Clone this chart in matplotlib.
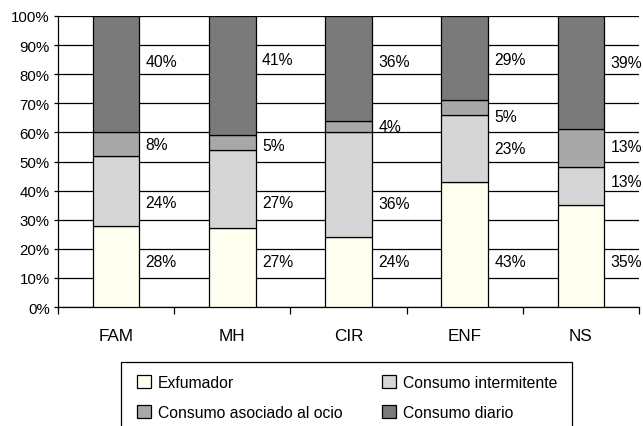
import matplotlib.pyplot as plt
from matplotlib.patches import Rectangle
import numpy as np

plt.rcParams['font.family'] = ['Liberation Sans', 'DejaVu Sans']

grupos = ["FAM", "MH", "CIR", "ENF", "NS"]
series = ["Exfumador", "Consumo intermitente", "Consumo asociado al ocio", "Consumo diario"]
exfumador = [28, 27, 24, 43, 35]
intermitente = [24, 27, 36, 23, 13]
ocio = [8, 5, 4, 5, 13]
diario = [40, 41, 36, 29, 39]
colores = ["#FFFFF0", "#D6D6D6", "#A8A8A8", "#7A7A7A"]

# altura (en %) de cada etiqueta, por grupo y serie
pos_etiquetas = [
    [15.5, 36, 56, 84.5],
    [15.5, 36, 55.5, 85],
    [15.5, 35.7, 62, 84.5],
    [15.5, 54.3, 65.6, 85],
    [15.5, 43, 55, 84],
]

valores = [exfumador, intermitente, ocio, diario]

fig = plt.figure(figsize=(6.43, 4.27), dpi=100)
ax = fig.add_axes([58 / 643, 1 - 308 / 427, 581 / 643, 291 / 427])

x = np.arange(len(grupos))
ancho = 0.4
base = np.zeros(len(grupos))
handles = []
for j, (nombre, vals, color) in enumerate(zip(series, valores, colores)):
    vals = np.array(vals, dtype=float)
    b = ax.bar(x, vals, ancho, bottom=base, color=color, edgecolor="black",
               linewidth=0.9, label=nombre, zorder=3)
    handles.append(b)
    for i, v in enumerate(vals):
        ax.text(x[i] + ancho / 2 + 0.055, pos_etiquetas[i][j], f"{v:.0f}%",
                ha="left", va="center", fontsize=11.3, zorder=4)
    base += vals

ax.set_xlim(-0.5, len(grupos) - 0.5)
ax.set_ylim(0, 100)
ax.set_yticks(np.arange(0, 101, 10))
ax.set_yticklabels([f"{t}%" for t in range(0, 101, 10)], fontsize=10.8)
ax.yaxis.grid(True, color="black", linewidth=0.9, zorder=0)
ax.set_axisbelow(True)

ax.set_xticks(x)
ax.set_xticklabels(grupos, fontsize=12.3)
ax.set_xticks(np.arange(-0.5, len(grupos), 1), minor=True)
ax.tick_params(axis="x", which="major", length=0, pad=15)
ax.tick_params(axis="x", which="minor", length=5, width=0.9, direction="out")
ax.tick_params(axis="y", length=3, width=0.9, direction="out", pad=3)

for lado in ["top", "right"]:
    ax.spines[lado].set_visible(False)
ax.spines["left"].set_linewidth(0.9)
ax.spines["bottom"].set_linewidth(0.9)

# leyenda en dos columnas con marco propio
leg = fig.legend(handles=[handles[0], handles[2], handles[1], handles[3]],
                 labels=[series[0], series[2], series[1], series[3]],
                 ncol=2, loc="upper left", bbox_to_anchor=(137 / 643, 1 - 376 / 427),
                 fontsize=11.3, frameon=False, borderpad=0, borderaxespad=0,
                 handlelength=0.9, handleheight=0.9, columnspacing=2.5,
                 labelspacing=0.95, handletextpad=0.45)
for h in leg.legend_handles:
    h.set_edgecolor("black")
    h.set_linewidth(0.9)

marco = Rectangle((121 / 643, -0.05), (572 - 121) / 643, 1 - 363 / 427 + 0.05,
                  transform=fig.transFigure, fill=False, edgecolor="black",
                  linewidth=0.9)
fig.add_artist(marco)

fig.savefig("out.png", dpi=100)
